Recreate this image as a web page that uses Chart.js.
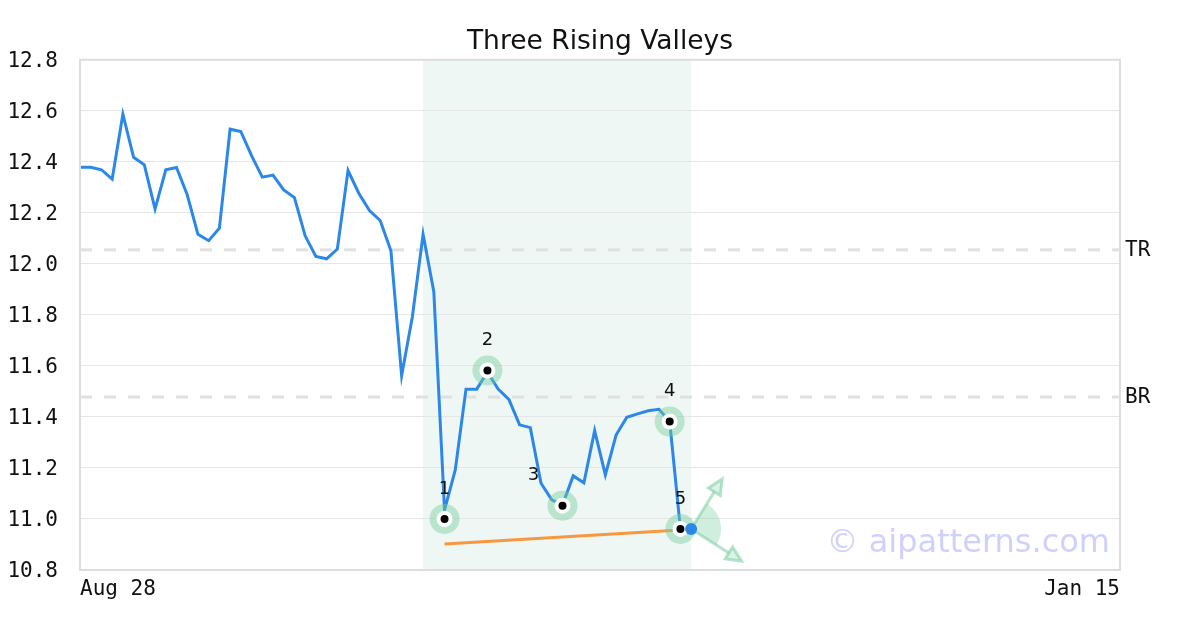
<!DOCTYPE html>
<html>
<head>
<meta charset="utf-8">
<script src="https://cdn.jsdelivr.net/npm/chart.js@4/dist/chart.umd.min.js"></script>
<style>
  html, body { margin: 0; padding: 0; background: #fff; }
  #wrap { width: 1200px; height: 630px; }
</style>
</head>
<body>
<div id="wrap"><canvas id="c" width="1200" height="630"></canvas></div>
<script>
// ---- data ----
const titleText = "Three Rising Valleys";
const xTickLabels = ["Aug 28", "Jan 15"];
const xMaxIndex = 97;
const yTickMin = 10.8;
const yTickMax = 12.8;
const yTickStep = 0.2;
const prices = [12.379, 12.379, 12.369, 12.332, 12.587, 12.418, 12.388, 12.215, 12.369, 12.378,
                12.271, 12.116, 12.091, 12.140, 12.528, 12.519, 12.424, 12.340, 12.348, 12.290,
                12.260, 12.110, 12.029, 12.020, 12.058, 12.366, 12.277, 12.209, 12.170, 12.051,
                11.562, 11.793, 12.116, 11.891, 11.035, 11.192, 11.509, 11.509, 11.576, 11.509,
                11.469, 11.369, 11.358, 11.140, 11.075, 11.055, 11.169, 11.142, 11.346, 11.173,
                11.329, 11.399, 11.412, 11.424, 11.430, 11.382, 10.961];
const pivotNames = ["1", "2", "3", "4", "5"];
const pivotX = [34, 38, 45, 55, 56];
const pivotY = [11.0, 11.582, 11.052, 11.382, 10.961];
const pivotLabelX = [34, 38, 42.3, 55, 56];
const trendX = [34, 56];
const trendY = [10.902, 10.957];
const levelNames = ["TR", "BR"];
const levelValues = [12.055, 11.478];
const shadeRange = [32, 57];
const currentX = [57];
const currentY = [10.961];
const arrowX = [59.9, 61.7];
const arrowY = [11.157, 10.835];
const watermark = "© aipatterns.com";

// ---- build ----
const priceData = prices.map((v, i) => ({ x: i, y: v }));
const pivotData = pivotX.map((x, i) => ({ x: x, y: pivotY[i] }));
const trendData = trendX.map((x, i) => ({ x: x, y: trendY[i] }));
const currentData = currentX.map((x, i) => ({ x: x, y: currentY[i] }));

const BLUE = 'rgb(43,135,232)';
const MINT = 'rgba(120,205,160,0.45)';

const decor = {
  id: 'decor',
  beforeDraw(chart) {
    const { ctx, chartArea: a, scales: { x } } = chart;
    ctx.save();
    ctx.fillStyle = '#ffffff';
    ctx.fillRect(0, 0, chart.width, chart.height);
    const x0 = x.getPixelForValue(shadeRange[0]);
    const x1 = x.getPixelForValue(shadeRange[1]);
    ctx.fillStyle = '#eef7f3';
    ctx.fillRect(x0, a.top, x1 - x0, a.bottom - a.top);
    ctx.restore();
  },
  beforeDatasetsDraw(chart) {
    const { ctx, chartArea: a, scales: { x, y } } = chart;
    ctx.save();
    ctx.strokeStyle = '#e0e0e0';
    ctx.lineWidth = 3;
    ctx.setLineDash([12, 12]);
    levelValues.forEach((v) => {
      const py = y.getPixelForValue(v);
      ctx.beginPath();
      ctx.moveTo(a.left, py);
      ctx.lineTo(a.right, py);
      ctx.stroke();
    });
    ctx.setLineDash([]);
    ctx.fillStyle = '#111';
    ctx.font = '21px "DejaVu Sans Mono"';
    ctx.textAlign = 'left';
    ctx.textBaseline = 'middle';
    levelValues.forEach((v, i) => {
      ctx.fillText(levelNames[i], a.right + 5, y.getPixelForValue(v) + 1);
    });
    const cx = x.getPixelForValue(currentX[0]);
    const cy = y.getPixelForValue(currentY[0]);
    const ends = arrowX.map((ax, i) => [x.getPixelForValue(ax), y.getPixelForValue(arrowY[i])]);
    const ang = ends.map(e => Math.atan2(e[1] - cy, e[0] - cx));
    ctx.fillStyle = 'rgba(120,205,160,0.35)';
    ctx.beginPath();
    ctx.moveTo(cx, cy);
    ctx.arc(cx, cy, 30, ang[0], ang[1], false);
    ctx.closePath();
    ctx.fill();
    ctx.strokeStyle = 'rgba(120,205,160,0.55)';
    ctx.fillStyle = 'rgba(120,205,160,0.25)';
    ctx.lineWidth = 3;
    ends.forEach((e, i) => {
      const t = ang[i];
      const hl = 15, hw = 7;
      const bx = e[0] - hl * Math.cos(t), by = e[1] - hl * Math.sin(t);
      ctx.beginPath();
      ctx.moveTo(cx, cy);
      ctx.lineTo(bx, by);
      ctx.stroke();
      ctx.beginPath();
      ctx.moveTo(e[0], e[1]);
      ctx.lineTo(bx + hw * Math.sin(t), by - hw * Math.cos(t));
      ctx.lineTo(bx - hw * Math.sin(t), by + hw * Math.cos(t));
      ctx.closePath();
      ctx.fill();
      ctx.stroke();
    });
    ctx.restore();
  },
  afterDatasetsDraw(chart) {
    const { ctx, chartArea: a, scales: { x, y } } = chart;
    ctx.save();
    ctx.fillStyle = '#111';
    ctx.font = '18px "DejaVu Sans"';
    ctx.textAlign = 'center';
    ctx.textBaseline = 'middle';
    pivotNames.forEach((n, i) => {
      ctx.fillText(n, x.getPixelForValue(pivotLabelX[i]), y.getPixelForValue(pivotY[i]) - 30);
    });
    ctx.font = '32px "DejaVu Sans"';
    ctx.fillStyle = 'rgba(170,170,250,0.55)';
    ctx.textAlign = 'right';
    ctx.fillText(watermark, a.right - 10, a.bottom - 26);
    ctx.strokeStyle = '#dddddd';
    ctx.lineWidth = 2;
    ctx.strokeRect(a.left, a.top, a.right - a.left, a.bottom - a.top);
    ctx.restore();
  }
};

Chart.defaults.font.family = '"DejaVu Sans Mono"';
Chart.defaults.color = '#111';

new Chart(document.getElementById('c'), {
  type: 'scatter',
  data: {
    datasets: [
      { type: 'line', data: priceData, borderColor: BLUE, borderWidth: 3, pointRadius: 0, tension: 0, fill: false, order: 10 },
      { type: 'line', data: trendData, borderColor: 'rgb(247,152,62)', borderWidth: 3, pointRadius: 0, fill: false, order: 9 },
      { data: pivotData, pointRadius: 15, backgroundColor: MINT, borderWidth: 0, order: 5 },
      { data: pivotData, pointRadius: 8, backgroundColor: '#ffffff', borderWidth: 0, order: 4 },
      { data: pivotData, pointRadius: 4, backgroundColor: '#000000', borderWidth: 0, order: 3 },
      { data: currentData, pointRadius: 6, backgroundColor: BLUE, borderWidth: 0, order: 2 }
    ]
  },
  options: {
    responsive: false,
    animation: false,
    events: [],
    layout: { padding: 0 },
    plugins: {
      legend: { display: false },
      tooltip: { enabled: false },
      title: {
        display: true,
        text: titleText,
        color: '#111',
        font: { family: '"DejaVu Sans"', size: 26.5, weight: 'normal' },
        padding: { top: 26, bottom: 2 }
      }
    },
    scales: {
      x: {
        type: 'linear',
        min: 0,
        max: xMaxIndex,
        grid: { display: false, drawTicks: false },
        border: { display: false },
        afterBuildTicks(scale) { scale.ticks = [{ value: 0 }, { value: xMaxIndex }]; },
        afterFit(scale) { scale.height = 60; },
        ticks: {
          align: 'inner',
          padding: 7,
          maxRotation: 0,
          autoSkip: false,
          font: { size: 21 },
          color: '#111',
          callback: (v, i) => xTickLabels[i]
        }
      },
      y: {
        min: yTickMin,
        max: yTickMax,
        grid: { color: '#e6e6e6', lineWidth: 1, drawTicks: false },
        border: { display: false },
        afterFit(scale) { scale.width = 80; },
        ticks: {
          stepSize: yTickStep,
          padding: 22,
          labelOffset: 2,
          font: { size: 21 },
          color: '#111',
          callback: v => Number(v).toFixed(1)
        }
      },
      yRight: {
        type: 'linear',
        position: 'right',
        min: 0,
        max: 1,
        grid: { display: false, drawTicks: false },
        border: { display: false },
        ticks: { display: false },
        afterFit(scale) { scale.width = 80; }
      }
    }
  },
  plugins: [decor]
});
</script>
</body>
</html>
